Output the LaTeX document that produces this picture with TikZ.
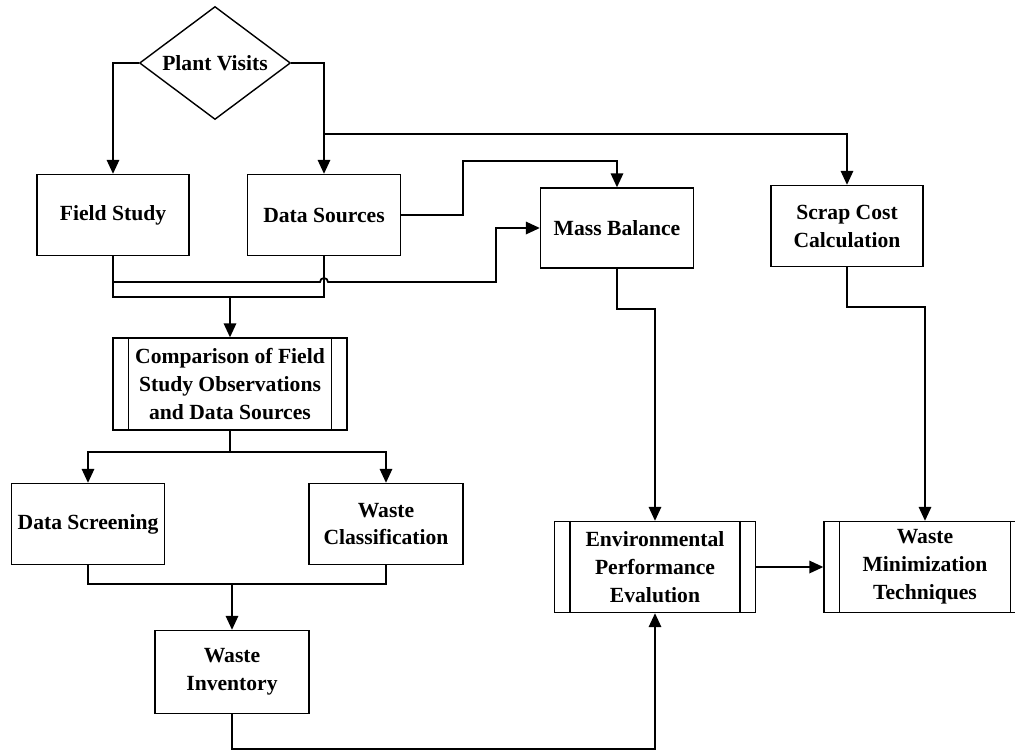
\documentclass[tikz,border=0pt]{standalone}
\usepackage{fontspec}
\setmainfont{Liberation Serif}
\usetikzlibrary{arrows.meta,shapes.geometric}

\tikzset{
  box/.style={draw, line width=0.8pt, align=center, font=\bfseries\fontsize{12.3}{15.9}\selectfont,
    minimum width=3.06cm, minimum height=1.62cm, inner sep=2pt},
  decision/.style={draw, diamond, line width=0.8pt, aspect=1.34, inner sep=0pt,
    minimum width=3.02cm, minimum height=2.26cm, font=\bfseries\fontsize{12.3}{15.9}\selectfont},
  arr/.style={line width=1pt, -{Triangle[length=0.28cm, width=0.25cm]}},
  link/.style={line width=1pt}
}

\begin{document}
\begin{tikzpicture}[x=0.02cm, y=-0.02cm]
\useasboundingbox (0,0) rectangle (1015,752);

% Inicio
\node[decision] (visits) at (215,63) {Plant Visits};

% Fuentes de datos
\node[box, minimum width=3.04cm] (field) at (113,215) {Field Study};
\node[box] (sources) at (324,215) {Data Sources};
\node[box, minimum height=1.6cm] (mass) at (617,228) {Mass Balance};
\node[box, minimum width=3.04cm] (scrap) at (847,226) {Scrap Cost\\Calculation};

% Comparación y clasificación
\node[box, minimum width=4.68cm, minimum height=1.84cm] (compare) at (230,384)
  {Comparison of Field\\Study Observations\\and Data Sources};
\node[box] (screen) at (88,524) {Data Screening};
\node[box, minimum width=3.08cm] (classify) at (386,524) {Waste\\Classification};
\node[box, minimum width=3.08cm, minimum height=1.66cm] (inventory) at (232,672) {Waste\\Inventory};

% Evaluación final
\node[box, minimum width=4.02cm, minimum height=1.82cm] (env) at (655,567) {Environmental\\Performance\\Evalution};
\node[box, minimum width=4.04cm, minimum height=1.82cm] (minim) at (925,567) {Waste\\Minimization\\Techniques};

% Bordes de subproceso
\foreach \n in {compare, env, minim} {
  \draw[line width=0.8pt] ([xshift=0.32cm]\n.north west) -- ([xshift=0.32cm]\n.south west);
  \draw[line width=0.8pt] ([xshift=-0.32cm]\n.north east) -- ([xshift=-0.32cm]\n.south east);
}

% Conexiones desde Plant Visits
\coordinate (split) at (324,134);
\draw[arr] (visits.west) -| (field.north);
\draw[arr] (visits.east) -| (sources.north);
\draw[arr] (split) -| (scrap.north);
\draw[arr] (sources.east) -| (463,161) -| (mass.north);

% Unión de Field Study y Data Sources
\coordinate (join) at (230,296);
\draw[link] (field.south) -- ++(0,41) -| (sources.south);
\draw[arr] (join) -- (compare.north);
\draw[arr] (113,282) -- (320,282) arc[start angle=180, end angle=0, radius=0.08cm]
  -- (496,282) |- (mass.west);

% Comparación hacia abajo
\draw[arr] (compare.south) -- ++(0,21) -| (screen.north);
\draw[arr] (compare.south) -- ++(0,21) -| (classify.north);
\coordinate (merge) at (232,584);
\draw[link] (screen.south) |- (merge) -| (classify.south);
\draw[arr] (merge) -- (inventory.north);

% Hacia la evaluación
\draw[arr] (inventory.south) -- ++(0,35) -| (env.south);
\draw[arr] (mass.south) -- ++(0,40) -| (env.north);
\draw[arr] (scrap.south) -- ++(0,40) -| (minim.north);
\draw[arr] (env.east) -- (minim.west);
\end{tikzpicture}
\end{document}
